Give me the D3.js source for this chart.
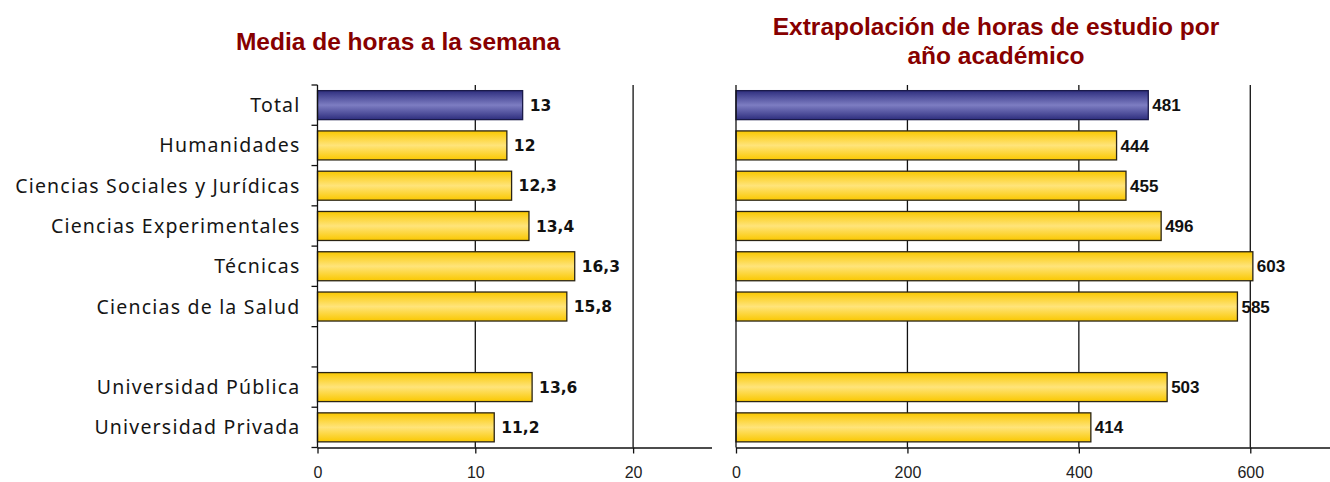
<!DOCTYPE html>
<html><head><meta charset="utf-8">
<script src="https://cdn.jsdelivr.net/npm/d3@7"></script>
<style>body{margin:0;background:#fff}svg{display:block}</style>
</head><body>
<svg id="c" width="1330" height="482"></svg>
<script>
const categories = ["Total","Humanidades","Ciencias Sociales y Jurídicas","Ciencias Experimentales","Técnicas","Ciencias de la Salud","","Universidad Pública","Universidad Privada"];
const weeklyHours = [13,12,12.3,13.4,16.3,15.8,null,13.6,11.2];
const yearlyHours = [481,444,455,496,603,585,null,503,414];
const leftTicks = [0,10,20];
const rightTicks = [0,200,400,600];
const leftTitle = ["Media de horas a la semana"];
const rightTitle = ["Extrapolación de horas de estudio por","año académico"];

const svg = d3.select("#c");
const defs = svg.append("defs");
function grad(id, edge, mid){
  const g = defs.append("linearGradient").attr("id",id).attr("x1",0).attr("y1",0).attr("x2",0).attr("y2",1);
  g.append("stop").attr("offset","0%").attr("stop-color",edge);
  g.append("stop").attr("offset","50%").attr("stop-color",mid);
  g.append("stop").attr("offset","100%").attr("stop-color",edge);
}
grad("gy","#FAC800","#FFE47A");
grad("gb","#2E2E7E","#7D7DC2");

const plotTop = 85, plotBottom = 447.5;
const y = d3.scaleBand().domain(categories.map((c,i)=>i)).range([plotTop,plotBottom]).paddingInner(0.28).paddingOuter(0.14);
const titleColor = "#870000";

function panel(opts){
  const x = d3.scaleLinear().domain(opts.domain).range(opts.range);
  const g = svg.append("g");
  g.selectAll(".grid").data(opts.ticks.filter(t=>t>0)).join("line")
    .attr("x1",d=>x(d)).attr("x2",d=>x(d)).attr("y1",plotTop).attr("y2",plotBottom)
    .attr("stroke","#111").attr("stroke-width",1.3);
  const data = opts.values.map((v,i)=>({v,i})).filter(d=>d.v!==null);
  g.selectAll(".bar").data(data).join("rect")
    .attr("x",x(0)).attr("y",d=>y(d.i)).attr("width",d=>x(d.v)-x(0)).attr("height",y.bandwidth())
    .attr("fill",d=>d.i===0?"url(#gb)":"url(#gy)")
    .attr("stroke",d=>d.i===0?"#1a1a4a":"#2a2414").attr("stroke-width",1.3);
  g.selectAll(".lbl").data(data).join("text")
    .attr("x",d=>x(d.v)+opts.labelGap).attr("y",d=>y(d.i)+y.bandwidth()/2).attr("dy","0.36em")
    .attr("font-family",opts.labelFont).attr("font-weight","bold").attr("font-size",opts.labelSize)
    .attr("fill","#111").text(d=>opts.fmt(d.v));
  const ax = g.append("g").attr("transform",`translate(0,${plotBottom})`)
    .call(d3.axisBottom(x).tickValues(opts.ticks).tickSize(6).tickPadding(14).tickFormat(d3.format("d")));
  ax.attr("font-size",16).attr("font-family","'Liberation Sans', Arial, sans-serif");
  ax.select(".domain").attr("stroke","#111").attr("stroke-width",1.3).attr("d",`M${x(0)},0.5H${opts.range[1]}`);
  ax.selectAll(".tick line").attr("stroke","#111").attr("stroke-width",1.3);
  ax.selectAll(".tick text").attr("font-size",16).attr("dy","0.68em").attr("fill","#222");
  g.append("line").attr("x1",x(0)).attr("x2",x(0)).attr("y1",plotTop).attr("y2",plotBottom).attr("stroke","#111").attr("stroke-width",1.3);
  if(opts.yTicks){
    const bounds = d3.range(categories.length+1).map(i=> plotTop + (plotBottom-plotTop)*i/categories.length);
    g.selectAll(".yt").data(bounds).join("line").attr("x1",x(0)-6).attr("x2",x(0)).attr("y1",d=>d).attr("y2",d=>d)
      .attr("stroke","#111").attr("stroke-width",1.3);
    g.selectAll(".cat").data(categories.map((c,i)=>({c,i}))).join("text")
      .attr("x",x(0)-17).attr("y",d=>y(d.i)+y.bandwidth()/2).attr("dy","0.36em").attr("text-anchor","end")
      .attr("font-family","'Noto Sans', 'DejaVu Sans', sans-serif").attr("font-size",19.5).attr("letter-spacing","1.2px")
      .attr("fill","#151515").text(d=>d.c);
  }
  const t = svg.append("text").attr("text-anchor","middle").attr("font-family","'Liberation Sans', Arial, sans-serif")
    .attr("font-weight","bold").attr("font-size",24.5).attr("fill",titleColor);
  opts.title.forEach((line,k)=> t.append("tspan").attr("x",opts.titleX).attr("y",opts.titleY + k*29).text(line));
}

panel({domain:[0,25], range:[317.5,712], ticks:leftTicks, values:weeklyHours, labelGap:7,
  labelFont:"'DejaVu Sans', Verdana, sans-serif", labelSize:15.5, fmt:d=>String(d).replace(".",","),
  yTicks:true, title:leftTitle, titleX:398, titleY:50});
panel({domain:[0,700], range:[736,1336], ticks:rightTicks, values:yearlyHours, labelGap:4,
  labelFont:"'Liberation Sans Narrow', 'Liberation Sans', Arial, sans-serif", labelSize:17, fmt:d=>String(d),
  yTicks:false, title:rightTitle, titleX:996, titleY:35});
</script>
</body></html>
